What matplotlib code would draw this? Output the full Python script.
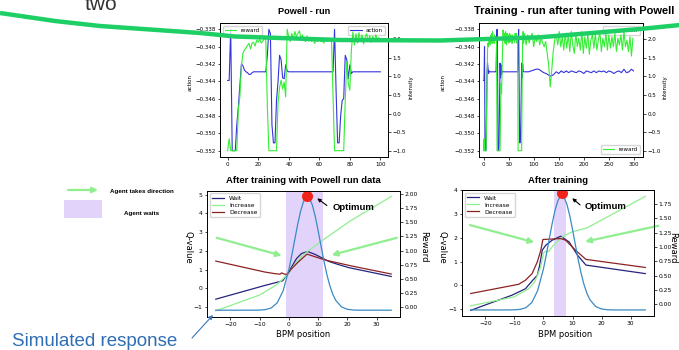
"""
Lámina: corrida Powell / entrenamiento (arriba) y curvas Q vs posición BPM (abajo).
"""

import matplotlib
matplotlib.use("Agg")
import matplotlib.pyplot as plt
from matplotlib.patches import Rectangle
from matplotlib.ticker import FuncFormatter

W, H = 679, 350
ARIAL = "Liberation Sans"

plt.rcParams.update({
    "font.family": ["DejaVu Sans"],
    "font.size": 4.3,
    "axes.linewidth": 0.6,
    "xtick.major.size": 1.8,
    "ytick.major.size": 1.8,
    "xtick.major.width": 0.5,
    "ytick.major.width": 0.5,
    "xtick.major.pad": 1.5,
    "ytick.major.pad": 1.5,
})

# ── Datos: corrida Powell (paso 0..100) ──────────────────────────────────────
powell_step = list(range(101))
powell_action = (
    [-0.3439, -0.3439, -0.3380, -0.3520, -0.3520, -0.3520, -0.3490, -0.3470, -0.3445, -0.3420,
     -0.3422, -0.3427, -0.3429, -0.3430, -0.3432, -0.3432, -0.3430, -0.3429, -0.3429, -0.3429,
     -0.3429, -0.3429, -0.3429, -0.3429, -0.3429, -0.3429, -0.3410, -0.3380, -0.3385, -0.3490,
     -0.3511, -0.3511, -0.3462, -0.3440, -0.3410, -0.3415, -0.3436, -0.3437, -0.3421, -0.3428]
    + [-0.3429] * 30
    + [-0.3380, -0.3450, -0.3511, -0.3511, -0.3480, -0.3462, -0.3460, -0.3410, -0.3415, -0.3437,
       -0.3421, -0.3431, -0.3429]
    + [-0.3429] * 18
)
powell_reward = [
    -1.0, -0.68, -1.0, -1.0, -1.0, -1.0, -1.0, 0.10, 0.45, 1.26,
    1.62, 1.72, 1.76, 1.84, 1.89, 1.74, 1.90, 1.92, 1.82, 1.98,
    1.92, 2.00, 1.90, 1.95, 2.02, 1.96, 0.20, -1.0, -1.0, -1.0,
    -1.0, -1.0, -1.0, 0.30, 0.70, 0.90, 0.66, 0.85, 0.45, 2.27,
    2.07, 1.94, 2.16, 2.00, 2.21, 2.07, 2.16, 2.23, 2.03, 2.12,
    1.98, 1.94, 2.09, 1.95, 2.04, 1.94, 2.00, 1.89, 1.98, 1.94,
    2.03, 1.94, 1.96, 1.90, 1.98, 1.94, 2.03, 1.98, 2.00, 0.50,
    -1.0, -1.0, -1.0, -1.0, -1.0, -1.0, -1.0, 0.36, 1.40, 0.81,
    0.63, 1.70, 2.20, 1.85, 2.15, 1.90, 2.18, 1.95, 2.12, 1.88,
    2.05, 2.15, 1.95, 2.10, 1.92, 2.08, 1.96, 2.12, 1.98, 2.05, 1.95,
]

# ── Datos: entrenamiento tras ajuste con Powell (paso 0..300) ────────────────
train_action_step = list(range(81)) + list(range(85, 300, 5)) + [299]
train_action = (
    [-0.3439, -0.3439, -0.3400, -0.3520, -0.3520, -0.3520, -0.3480, -0.3430, -0.3419, -0.3425,
     -0.3431, -0.3428]
    + [-0.3429] * 14
    + [-0.3400, -0.3380, -0.3420, -0.3520,
       -0.3520, -0.3515, -0.3462, -0.3419, -0.3436, -0.3421, -0.3432, -0.3428, -0.3429, -0.3429]
    + [-0.3429] * 29
    + [-0.3400, -0.3380, -0.3440, -0.3511, -0.3511, -0.3500, -0.3462, -0.3419, -0.3436, -0.3420,
       -0.3428, -0.3429]
    + [-0.3429, -0.3429, -0.3428, -0.3427, -0.3426, -0.3426, -0.3428, -0.3430, -0.3431, -0.3433,
       -0.3434, -0.3432, -0.3429, -0.3431, -0.3428, -0.3430, -0.3428, -0.3430, -0.3428, -0.3429,
       -0.3430, -0.3428, -0.3429, -0.3431, -0.3428, -0.3429, -0.3430, -0.3428, -0.3430, -0.3428,
       -0.3429, -0.3428, -0.3430, -0.3428, -0.3429, -0.3431, -0.3429, -0.3428, -0.3430, -0.3426,
       -0.3430, -0.3429, -0.3426, -0.3428]
)
train_reward_step = list(range(81)) + list(range(82, 299, 3))
train_reward = [
    -1.0, -0.68, -1.0, -1.0, -1.0, -1.0, -0.20, 0.81, 1.71, 1.90,
    1.80, 2.02, 1.98, 1.85, 2.10, 1.92, 2.16, 1.89, 2.21, 1.95,
    2.05, 1.89, 2.12, 1.98, 2.07, 2.02, 1.94, -1.0, -1.0, -1.0,
    -1.0, -1.0, -1.0, -1.0, 0.10, 0.81, 0.54, 1.20, 1.71, 2.25,
    2.00, 1.98, 2.16, 1.89, 2.21, 2.03, 1.85, 2.16, 1.94, 2.07,
    2.12, 1.90, 2.16, 1.98, 1.94, 2.12, 2.03, 1.89, 2.12, 2.05,
    1.98, 2.07, 1.92, 2.16, 2.03, 2.16, 1.94, 1.89, 2.00, -1.0,
    -1.0, -1.0, -1.0, -1.0, -1.0, -1.0, -1.0, 0.81, 1.98, 2.21,
    1.89,
    2.16, 1.85, 2.12, 1.90, 2.07, 2.16, 1.80, 2.07, 1.94, 2.12,
    1.85, 2.03, 1.90, 1.80, 1.94, 1.62, 1.30, 0.72, 1.17, 1.67,
    1.98, 2.12, 1.85, 2.21, 1.80, 2.07, 1.71, 2.16, 1.76, 2.12,
    1.67, 2.21, 1.85, 1.62, 2.16, 1.80, 2.03, 1.71, 2.21, 1.62,
    2.07, 1.76, 2.16, 1.60, 1.98, 2.12, 1.76, 2.16, 1.71, 1.98,
    2.21, 1.67, 2.03, 1.80, 2.16, 1.71, 2.12, 1.76, 2.07, 1.80,
    2.16, 1.67, 2.03, 1.85, 2.12, 1.71, 2.21, 1.80, 1.98, 1.67,
    2.07, 1.55, 2.03,
]

action_ticks = [-0.352, -0.350, -0.348, -0.346, -0.344, -0.342, -0.340, -0.338]
intensity_ticks = [-1.0, -0.5, 0.0, 0.5, 1.0, 1.5, 2.0]

# ── Datos: Q-values tras entrenamiento con datos de Powell ───────────────────
rl_wait_x = [-25, -8, -2.1, -1.3, -0.5, 0.9, 2.6, 4.3, 6.4, 8.9, 11.2, 13.5, 17, 20.5, 35]
rl_wait_q = [-0.57, 0.17, 0.41, 0.60, 0.75, 1.14, 1.59, 1.86, 1.97, 1.82, 1.64, 1.45, 1.27, 1.11, 0.64]
rl_inc_x = [-25, -10, -4.8, -2.5, -0.5, 2.1, 4.3, 6.4, 12, 21, 35]
rl_inc_q = [-1.19, -0.35, 0.14, 0.43, 0.75, 1.30, 1.70, 1.98, 2.62, 3.60, 4.90]
rl_dec_x = [-25, -8.2, -4.8, -3.0, -2.5, -1.4, -0.5, 0.9, 3.2, 6.2, 12.3, 21.4, 35]
rl_dec_q = [1.46, 0.875, 0.79, 0.76, 0.83, 0.76, 0.76, 1.05, 1.41, 1.83, 1.52, 1.20, 0.77]

# ── Datos: Q-values tras entrenamiento ───────────────────────────────────────
tr_wait_x = [-25, -10.8, -6.2, -3.9, -2.1, -1.3, -0.4, 0.8, 3.0, 5.9, 8.8, 11.7, 14.6, 35]
tr_wait_q = [-1.06, -0.42, -0.15, 0.18, 0.42, 0.85, 1.48, 1.69, 1.90, 2.07, 1.83, 1.27, 0.85, 0.49]
tr_inc_x = [-25, -10, -5, -3, -1, 0, 1, 1.8, 3, 5, 7, 10, 15, 35]
tr_inc_q = [-0.87, -0.49, -0.14, 0.14, 0.75, 1.35, 1.45, 1.42, 1.62, 1.88, 2.09, 2.26, 2.42, 3.75]
tr_dec_x = [-25, -8.5, -6.2, -3.9, -2.1, -0.9, -0.2, 3.0, 5.9, 7.6, 11, 14.6, 35]
tr_dec_q = [-0.35, 0.04, 0.21, 0.49, 0.99, 1.48, 1.93, 1.95, 1.97, 1.90, 1.48, 1.09, 0.75]

# respuesta simulada (reward vs posición BPM)
resp_x = [-25, -12, -10, -8, -6, -4, -2, 0, 1, 2, 3, 4, 5, 6, 7, 8, 9, 10, 11, 12,
          13, 14, 15, 16, 18, 20, 22, 24, 35]
rl_reward = [-0.05, -0.05, -0.048, -0.04, -0.01, 0.079, 0.287, 0.667, 0.918, 1.19, 1.46,
             1.694, 1.864, 1.945, 1.925, 1.806, 1.607, 1.354, 1.08, 0.814, 0.577, 0.382,
             0.233, 0.126, 0.008, -0.034, -0.047, -0.05, -0.05]
tr_reward = [-0.1, -0.1, -0.098, -0.09, -0.06, 0.029, 0.237, 0.617, 0.868, 1.14, 1.41,
             1.644, 1.814, 1.895, 1.875, 1.756, 1.557, 1.304, 1.03, 0.764, 0.527, 0.332,
             0.183, 0.076, -0.042, -0.084, -0.097, -0.1, -0.1]
rl_optimum = (6.3, 1.965)
tr_optimum = (6.5, 1.935)
rl_wait_zone = (-1.15, 11.8)
tr_wait_zone = (3.6, 7.6)

# trazo verde decorativo de la lámina (px)
arc_x = [0, 55, 100, 200, 235, 340, 440, 540, 640, 680]
arc_y = [13, 21, 26, 33, 36.5, 40, 40.5, 37.3, 29, 25]

C_ACTION = "#3434dc"
C_REWARD = "#33ee33"
C_WAIT = "#25257f"
C_INC = "#90ee90"
C_DEC = "#8c2323"
C_RESP = "#3b8ac4"
C_ZONE = "#e2d3fb"


def caja(l, t, r, b):
    """Caja en píxeles (izq, arriba, der, abajo) -> fracción de figura."""
    return [l / W, 1 - b / H, (r - l) / W, (b - t) / H]


fmt_action = FuncFormatter(lambda v, _: f"{v:.3f}".replace("-", "\u2212"))


def panel_corrida(rect, step_a, action, step_r, reward, xlim, xticks, titulo, tx, loc_r):
    ax = fig.add_axes(rect)
    ax.plot(step_a, action, color=C_ACTION, lw=0.8, label="action")
    ax.set_ylim(-0.35273, -0.33727)
    ax.set_yticks(action_ticks)
    ax.yaxis.set_major_formatter(fmt_action)
    ax.set_xlim(*xlim)
    ax.set_xticks(xticks)
    ax.tick_params(labelsize=4)
    ax.set_ylabel("action", fontsize=4)
    ax.legend(loc="upper right", fontsize=4)
    ax.set_title(titulo, fontsize=tx[0], weight="bold", family=ARIAL, pad=6.5, x=tx[1])

    axr = ax.twinx()
    axr.plot(step_r, reward, color=C_REWARD, lw=0.8, label="reward")
    axr.set_ylim(-1.17, 2.44)
    axr.set_yticks(intensity_ticks)
    axr.tick_params(labelsize=4)
    axr.set_ylabel("intensity", fontsize=4)
    axr.legend(loc=loc_r, fontsize=4)
    return ax, axr


def panel_q(rect, curvas, resp, optimo, zona, ylim_q, ylim_r, qticks, rticks, titulo):
    ax = fig.add_axes(rect)
    ax.axvspan(*zona, color=C_ZONE, lw=0, zorder=0)
    (wx, wq), (ix, iq), (dx, dq) = curvas
    ax.plot(wx, wq, color=C_WAIT, lw=0.9, label="Wait")
    ax.plot(ix, iq, color=C_INC, lw=0.9, label="Increase")
    ax.plot(dx, dq, color=C_DEC, lw=0.9, label="Decrease")
    ax.set_xlim(-28, 38)
    ax.set_ylim(*ylim_q)
    ax.set_yticks(qticks)
    ax.set_xticks([-20, -10, 0, 10, 20, 30])
    ax.legend(loc="upper left", fontsize=4.3, borderpad=0.4, labelspacing=0.3,
              handlelength=2.0)
    ax.set_title(titulo, fontsize=6.8, weight="bold", family=ARIAL, pad=5.2)

    axr = ax.twinx()
    axr.plot(resp[0], resp[1], color=C_RESP, lw=0.9)
    axr.plot([optimo[0]], [optimo[1]], "o", color="#f0241c", ms=8, mec="none")
    axr.set_ylim(*ylim_r)
    axr.set_yticks(rticks)
    axr.yaxis.set_major_formatter(FuncFormatter(lambda v, _: f"{v:.2f}".replace("-", "\u2212")))
    return ax, axr


fig = plt.figure(figsize=(W / 100, H / 100), dpi=100)

# ── Arriba ───────────────────────────────────────────────────────────────────
a1, a1r = panel_corrida(caja(220, 23, 388, 157), powell_step, powell_action,
                        powell_step, powell_reward, (-5, 105), [0, 20, 40, 60, 80, 100],
                        "Powell - run", (6.6, 0.5), "upper left")
a1.yaxis.set_label_coords(-0.164, 0.556)
a1r.yaxis.set_label_coords(1.122, 0.52)

a2, a2r = panel_corrida(caja(479, 23, 643, 157), train_action_step, train_action,
                        train_reward_step, train_reward, (-9, 318),
                        [0, 50, 100, 150, 200, 250, 300],
                        "Training - run after tuning with Powell", (8.0, 0.582), "lower right")
a2.yaxis.set_label_coords(-0.204, 0.556)
a2r.yaxis.set_label_coords(1.119, 0.52)

# ── Abajo ────────────────────────────────────────────────────────────────────
b1, b1r = panel_q(caja(207, 190.5, 400, 317),
                  ((rl_wait_x, rl_wait_q), (rl_inc_x, rl_inc_q), (rl_dec_x, rl_dec_q)),
                  (resp_x, rl_reward), rl_optimum, rl_wait_zone,
                  (-1.52, 5.22), (-0.17, 2.06), [-1, 0, 1, 2, 3, 4, 5],
                  [0, 0.25, 0.5, 0.75, 1.0, 1.25, 1.5, 1.75, 2.0],
                  "After training with Powell run data")
b2, b2r = panel_q(caja(462, 190, 654, 316),
                  ((tr_wait_x, tr_wait_q), (tr_inc_x, tr_inc_q), (tr_dec_x, tr_dec_q)),
                  (resp_x, tr_reward), tr_optimum, tr_wait_zone,
                  (-1.3, 4.02), (-0.206, 1.995), [-1, 0, 1, 2, 3, 4],
                  [0, 0.25, 0.5, 0.75, 1.0, 1.25, 1.5, 1.75],
                  "After training")

for ax, axr, lx, ly, rx, xl in [(b1, b1r, -0.097, 0.553, 1.122, (0.5, -0.138)),
                                (b2, b2r, -0.104, 0.544, 1.095, (0.536, -0.143))]:
    ax.set_ylabel("Q-value", fontsize=6, rotation=270, va="center", ha="center")
    ax.yaxis.set_label_coords(lx, ly)
    axr.set_ylabel("Reward", fontsize=6, rotation=270, va="center", ha="center")
    axr.yaxis.set_label_coords(rx, ly)
    ax.set_xlabel("BPM position", fontsize=6, va="center")
    ax.xaxis.set_label_coords(*xl)

flecha_verde = dict(arrowstyle="-|>", color=C_INC, lw=1.6, mutation_scale=8,
                    shrinkA=0, shrinkB=0)
flecha_negra = dict(arrowstyle="-|>", color="black", lw=0.8, mutation_scale=5,
                    shrinkA=0, shrinkB=0)

# direcciones del agente y óptimo (coordenadas Q)
b1.annotate("", xy=(-2.45, 1.75), xytext=(-24.7, 2.70), arrowprops=flecha_verde)
b1.annotate("", xy=(14.6, 1.78), xytext=(36.9, 2.70), arrowprops=flecha_verde)
b1.annotate("", xy=(9.7, 4.80), xytext=(13.0, 4.42), arrowprops=flecha_negra)
b1.text(15.1, 4.31, "Optimum", fontsize=6.8, weight="bold", family=ARIAL, va="center")

b2.annotate("", xy=(-3.15, 1.81), xytext=(-25.25, 2.54), arrowprops=flecha_verde)
b2.annotate("", xy=(14.3, 1.84), xytext=(39.5, 2.51), arrowprops=flecha_verde,
            annotation_clip=False)
b2.annotate("", xy=(9.9, 3.67), xytext=(12.6, 3.39), arrowprops=flecha_negra)
b2.text(14.0, 3.32, "Optimum", fontsize=6.8, weight="bold", family=ARIAL, va="center")

# ── Capa de la lámina (píxeles) ──────────────────────────────────────────────
ov = fig.add_axes([0, 0, 1, 1], zorder=20)
ov.set_xlim(0, W)
ov.set_ylim(H, 0)
ov.axis("off")

ov.text(85, 10, "two", fontsize=15, family=ARIAL, color="#333333", va="baseline")
ov.plot(arc_x, arc_y, color="#1ecf66", lw=3.2, solid_capstyle="butt")

ov.annotate("", xy=(98, 190), xytext=(68, 190), arrowprops=flecha_verde)
ov.text(110, 192, "Agent takes direction", fontsize=4.5, weight="bold", family=ARIAL,
        va="center")
ov.add_patch(Rectangle((64, 200), 38, 18, color=C_ZONE, lw=0))
ov.text(124, 214, "Agent waits", fontsize=4.5, weight="bold", family=ARIAL, va="center")

ov.text(12, 346, "Simulated response", fontsize=13.5, family=ARIAL, color="#2f6db5",
        va="baseline")
ov.annotate("", xy=(213, 315), xytext=(192, 338),
            arrowprops=dict(arrowstyle="-|>", color="#3b75b8", lw=0.8, mutation_scale=6,
                            shrinkA=0, shrinkB=0))

fig.savefig("out.png", dpi=100)
plt.close(fig)
